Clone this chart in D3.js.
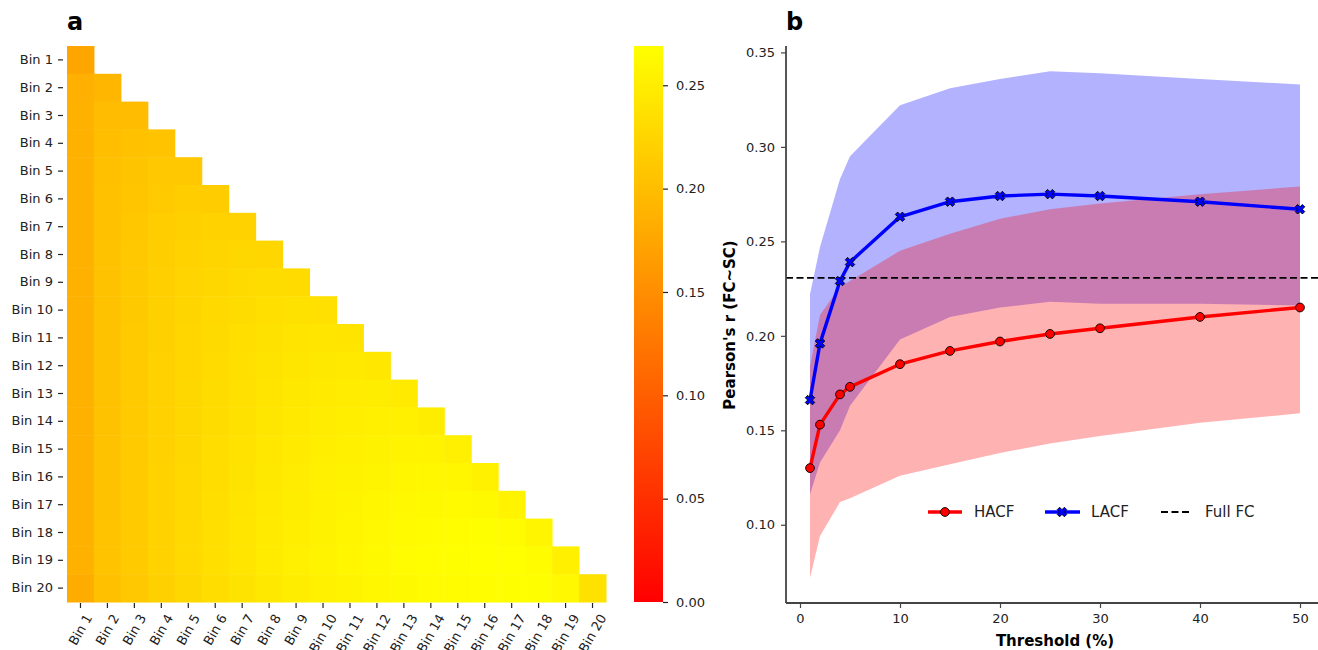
<!DOCTYPE html>
<html>
<head>
<meta charset="utf-8">
<script src="https://cdn.jsdelivr.net/npm/d3@7"></script>
<style>
  body { margin: 0; background: #fff; }
  svg { display: block; font-family: "DejaVu Sans", sans-serif; }
</style>
</head>
<body>
<div id="chart"></div>
<script>
// ---- panel a: lower-triangular bin matrix ----
const bins = ["Bin 1", "Bin 2", "Bin 3", "Bin 4", "Bin 5", "Bin 6", "Bin 7", "Bin 8", "Bin 9", "Bin 10",
  "Bin 11", "Bin 12", "Bin 13", "Bin 14", "Bin 15", "Bin 16", "Bin 17", "Bin 18", "Bin 19", "Bin 20"];
const matrixRows = [
  [0.174],
  [0.186, 0.192],
  [0.187, 0.198, 0.198],
  [0.187, 0.201, 0.204, 0.206],
  [0.187, 0.203, 0.207, 0.211, 0.211],
  [0.187, 0.204, 0.209, 0.214, 0.216, 0.215],
  [0.187, 0.204, 0.210, 0.216, 0.219, 0.222, 0.222],
  [0.187, 0.205, 0.211, 0.217, 0.222, 0.225, 0.227, 0.226],
  [0.187, 0.205, 0.212, 0.218, 0.224, 0.227, 0.230, 0.232, 0.231],
  [0.187, 0.205, 0.212, 0.219, 0.225, 0.229, 0.232, 0.235, 0.237, 0.236],
  [0.187, 0.205, 0.213, 0.219, 0.226, 0.230, 0.234, 0.237, 0.241, 0.242, 0.241],
  [0.187, 0.205, 0.213, 0.220, 0.226, 0.231, 0.235, 0.239, 0.243, 0.245, 0.246, 0.244],
  [0.187, 0.205, 0.213, 0.220, 0.227, 0.232, 0.236, 0.241, 0.245, 0.247, 0.249, 0.250, 0.247],
  [0.187, 0.205, 0.213, 0.220, 0.227, 0.232, 0.237, 0.243, 0.246, 0.249, 0.251, 0.253, 0.253, 0.250],
  [0.187, 0.205, 0.213, 0.220, 0.227, 0.233, 0.238, 0.244, 0.247, 0.251, 0.253, 0.255, 0.256, 0.256, 0.252],
  [0.187, 0.205, 0.213, 0.222, 0.228, 0.233, 0.239, 0.245, 0.249, 0.252, 0.255, 0.257, 0.259, 0.261, 0.259, 0.254],
  [0.187, 0.205, 0.214, 0.222, 0.228, 0.234, 0.241, 0.246, 0.250, 0.254, 0.257, 0.259, 0.262, 0.263, 0.264, 0.263, 0.256],
  [0.187, 0.206, 0.214, 0.222, 0.229, 0.235, 0.242, 0.247, 0.251, 0.255, 0.258, 0.262, 0.264, 0.266, 0.267, 0.268, 0.266, 0.258],
  [0.187, 0.206, 0.214, 0.222, 0.229, 0.235, 0.242, 0.248, 0.252, 0.256, 0.259, 0.263, 0.265, 0.267, 0.268, 0.269, 0.269, 0.266, 0.253],
  [0.181, 0.203, 0.211, 0.219, 0.227, 0.233, 0.239, 0.245, 0.250, 0.254, 0.257, 0.261, 0.263, 0.265, 0.266, 0.267, 0.268, 0.268, 0.262, 0.237]
];
const colorbarTicks = [0, 0.05, 0.10, 0.15, 0.20, 0.25];

// ---- panel b: threshold curves ----
const thresholds = [1, 2, 4, 5, 10, 15, 20, 25, 30, 40, 50];
const hacfMean  = [0.130, 0.153, 0.169, 0.173, 0.185, 0.192, 0.197, 0.201, 0.204, 0.210, 0.215];
const hacfLow   = [0.072, 0.094, 0.112, 0.114, 0.126, 0.132, 0.138, 0.143, 0.147, 0.154, 0.159];
const hacfHigh  = [0.184, 0.211, 0.226, 0.229, 0.245, 0.254, 0.262, 0.267, 0.270, 0.275, 0.279];
const lacfMean  = [0.166, 0.196, 0.229, 0.239, 0.263, 0.271, 0.274, 0.275, 0.274, 0.271, 0.267];
const lacfLow   = [0.116, 0.133, 0.150, 0.163, 0.198, 0.210, 0.215, 0.218, 0.217, 0.217, 0.216];
const lacfHigh  = [0.222, 0.247, 0.283, 0.295, 0.322, 0.331, 0.336, 0.340, 0.339, 0.336, 0.333];
const fullFC = 0.2307;
const xTicks = [0, 10, 20, 30, 40, 50];
const yTicks = [0.10, 0.15, 0.20, 0.25, 0.30, 0.35];

const W = 1318, H = 650;
const ink = "#222";
const svg = d3.select("#chart").append("svg")
  .attr("width", W).attr("height", H)
  .attr("viewBox", [0, 0, W, H]);

// ================= panel a =================
const hm = {left: 67, right: 606, top: 46, bottom: 602};
const vmax = d3.max(matrixRows.flat());
const color = d3.scaleSequential(d3.interpolateRgb("#ff0000", "#ffff00")).domain([0, vmax]);
const hx = d3.scaleBand().domain(bins).range([hm.left, hm.right]);
const hy = d3.scaleBand().domain(bins).range([hm.top, hm.bottom]);

const cells = [];
matrixRows.forEach((row, i) => row.forEach((v, j) => cells.push({r: bins[i], c: bins[j], v})));

svg.append("g")
  .selectAll("rect")
  .data(cells)
  .join("rect")
  .attr("x", d => hx(d.c))
  .attr("y", d => hy(d.r))
  .attr("width", hx.bandwidth() + 0.5)
  .attr("height", hy.bandwidth() + 0.5)
  .attr("fill", d => color(d.v));

// row labels
svg.append("g")
  .attr("transform", `translate(${hm.left - 4},0)`)
  .call(d3.axisLeft(hy).tickSize(5).tickPadding(5))
  .call(g => g.select(".domain").remove())
  .call(g => g.selectAll(".tick line").attr("stroke", ink).attr("stroke-width", 1.2))
  .call(g => g.selectAll(".tick text").attr("fill", ink).attr("font-size", 13)
    .attr("font-family", "DejaVu Sans"));

// column labels, rotated (the long ones run off the bottom edge, as in the original)
const hxAxis = svg.append("g")
  .attr("transform", `translate(0,${hm.bottom + 1})`)
  .call(d3.axisBottom(hx).tickSize(5))
  .call(g => g.select(".domain").remove())
  .call(g => g.selectAll(".tick line").attr("stroke", ink).attr("stroke-width", 1.2));
hxAxis.selectAll(".tick text")
  .attr("fill", ink).attr("font-size", 13).attr("font-family", "DejaVu Sans")
  .attr("dy", null).attr("y", null)
  .attr("dominant-baseline", "central")
  .attr("text-anchor", "middle")
  .attr("transform", function() {
    const len = this.getComputedTextLength();
    const a = Math.PI / 3;
    const bh = len * Math.sin(a) + 13 * Math.cos(a);
    return `translate(0,${9 + bh / 2}) rotate(-60)`;
  });

// colorbar
const cb = {x: 634, w: 29, top: 46, bottom: 602};
const grad = svg.append("defs").append("linearGradient")
  .attr("id", "cbgrad").attr("x1", 0).attr("x2", 0).attr("y1", 1).attr("y2", 0);
grad.selectAll("stop").data(d3.range(0, 1.0001, 0.1)).join("stop")
  .attr("offset", d => d)
  .attr("stop-color", d => color(d * vmax));
svg.append("rect")
  .attr("x", cb.x).attr("y", cb.top)
  .attr("width", cb.w).attr("height", cb.bottom - cb.top)
  .attr("fill", "url(#cbgrad)");
const cy = d3.scaleLinear().domain([0, vmax]).range([cb.bottom, cb.top]);
svg.append("g")
  .attr("transform", `translate(${cb.x + cb.w},0)`)
  .call(d3.axisRight(cy).tickValues(colorbarTicks).tickFormat(d3.format(".2f")).tickSize(5).tickPadding(8))
  .call(g => g.select(".domain").remove())
  .call(g => g.selectAll(".tick line").attr("stroke", ink).attr("stroke-width", 1.2))
  .call(g => g.selectAll(".tick text").attr("fill", ink).attr("font-size", 13)
    .attr("font-family", "DejaVu Sans"));

svg.append("text")
  .attr("x", 67).attr("y", 30)
  .attr("font-size", 24).attr("font-weight", "bold").attr("fill", "#000")
  .text("a");

// ================= panel b =================
const pb = {left: 786, top: 46, bottom: 603};
const x = d3.scaleLinear().domain([-1.45, 52.45]).range([785.5, 1324.5]);
const y = d3.scaleLinear().domain([0.0586, 0.3534]).range([pb.bottom, pb.top]);

const hacf = thresholds.map((t, i) => ({t, m: hacfMean[i], lo: hacfLow[i], hi: hacfHigh[i]}));
const lacf = thresholds.map((t, i) => ({t, m: lacfMean[i], lo: lacfLow[i], hi: lacfHigh[i]}));

const area = d3.area().x(d => x(d.t)).y0(d => y(d.lo)).y1(d => y(d.hi));
const line = d3.line().x(d => x(d.t)).y(d => y(d.m));

svg.append("path").datum(lacf).attr("d", area).attr("fill", "#0000ff").attr("fill-opacity", 0.3);
svg.append("path").datum(hacf).attr("d", area).attr("fill", "#ff0000").attr("fill-opacity", 0.3);

svg.append("line")
  .attr("x1", pb.left).attr("x2", W)
  .attr("y1", y(fullFC)).attr("y2", y(fullFC))
  .attr("stroke", "#000").attr("stroke-width", 1.8).attr("stroke-dasharray", "7,3.5");

svg.append("path").datum(hacf).attr("d", line)
  .attr("fill", "none").attr("stroke", "#ff0000").attr("stroke-width", 3.4).attr("stroke-linejoin", "round");
svg.append("path").datum(lacf).attr("d", line)
  .attr("fill", "none").attr("stroke", "#0000ff").attr("stroke-width", 3.4).attr("stroke-linejoin", "round");

// filled "X" marker like matplotlib's 'X'
function xMarker(s) {
  const a = s / 2, b = s / 4;
  return `M${-a + b},${-a}L0,${-b}L${a - b},${-a}L${a},${-a + b}L${b},0L${a},${a - b}` +
    `L${a - b},${a}L0,${b}L${-a + b},${a}L${-a},${a - b}L${-b},0L${-a},${-a + b}Z`;
}

svg.append("g").selectAll("circle").data(hacf).join("circle")
  .attr("cx", d => x(d.t)).attr("cy", d => y(d.m)).attr("r", 4.4)
  .attr("fill", "#ff0000").attr("stroke", "#000").attr("stroke-width", 0.9);
svg.append("g").selectAll("path").data(lacf).join("path")
  .attr("transform", d => `translate(${x(d.t)},${y(d.m)})`)
  .attr("d", xMarker(9.5))
  .attr("fill", "#0000ff").attr("stroke", "#000").attr("stroke-width", 0.9);

// axes
svg.append("g")
  .attr("transform", `translate(0,${pb.bottom})`)
  .call(d3.axisBottom(x).tickValues(xTicks).tickSize(5).tickPadding(6))
  .call(g => g.select(".domain").attr("d", `M${pb.left},0H${W}`).attr("stroke", "#444").attr("stroke-width", 1.8))
  .call(g => g.selectAll(".tick line").attr("stroke", "#444").attr("stroke-width", 1.2))
  .call(g => g.selectAll(".tick text").attr("fill", ink).attr("font-size", 13)
    .attr("font-family", "DejaVu Sans"));
svg.append("g")
  .attr("transform", `translate(${pb.left},0)`)
  .call(d3.axisLeft(y).tickValues(yTicks).tickFormat(d3.format(".2f")).tickSize(5).tickPadding(6))
  .call(g => g.select(".domain").attr("d", `M0,${pb.top}V${pb.bottom}`).attr("stroke", "#444").attr("stroke-width", 1.8))
  .call(g => g.selectAll(".tick line").attr("stroke", "#444").attr("stroke-width", 1.2))
  .call(g => g.selectAll(".tick text").attr("fill", ink).attr("font-size", 13)
    .attr("font-family", "DejaVu Sans"));

svg.append("text")
  .attr("x", 1055).attr("y", 646)
  .attr("text-anchor", "middle")
  .attr("font-size", 15).attr("font-weight", "bold").attr("fill", "#000")
  .text("Threshold (%)");
svg.append("text")
  .attr("transform", "translate(735,325) rotate(-90)")
  .attr("text-anchor", "middle")
  .attr("font-size", 15).attr("font-weight", "bold").attr("fill", "#000")
  .text("Pearson's r (FC~SC)");
svg.append("text")
  .attr("x", 786).attr("y", 30)
  .attr("font-size", 24).attr("font-weight", "bold").attr("fill", "#000")
  .text("b");

// legend
const legendY = 512;
const leg = svg.append("g").attr("font-size", 15).attr("fill", ink);
leg.append("line").attr("x1", 928).attr("x2", 962).attr("y1", legendY).attr("y2", legendY)
  .attr("stroke", "#ff0000").attr("stroke-width", 3.4);
leg.append("circle").attr("cx", 945).attr("cy", legendY).attr("r", 4.4)
  .attr("fill", "#ff0000").attr("stroke", "#000").attr("stroke-width", 0.9);
leg.append("text").attr("x", 974).attr("y", legendY).attr("dy", "0.35em").text("HACF");
leg.append("line").attr("x1", 1045).attr("x2", 1080).attr("y1", legendY).attr("y2", legendY)
  .attr("stroke", "#0000ff").attr("stroke-width", 3.4);
leg.append("path").attr("transform", `translate(1062,${legendY})`).attr("d", xMarker(9.5))
  .attr("fill", "#0000ff").attr("stroke", "#000").attr("stroke-width", 0.9);
leg.append("text").attr("x", 1091).attr("y", legendY).attr("dy", "0.35em").text("LACF");
leg.append("line").attr("x1", 1161).attr("x2", 1192).attr("y1", legendY).attr("y2", legendY)
  .attr("stroke", "#000").attr("stroke-width", 1.8).attr("stroke-dasharray", "7,3.5");
leg.append("text").attr("x", 1205).attr("y", legendY).attr("dy", "0.35em").text("Full FC");
</script>
</body>
</html>
